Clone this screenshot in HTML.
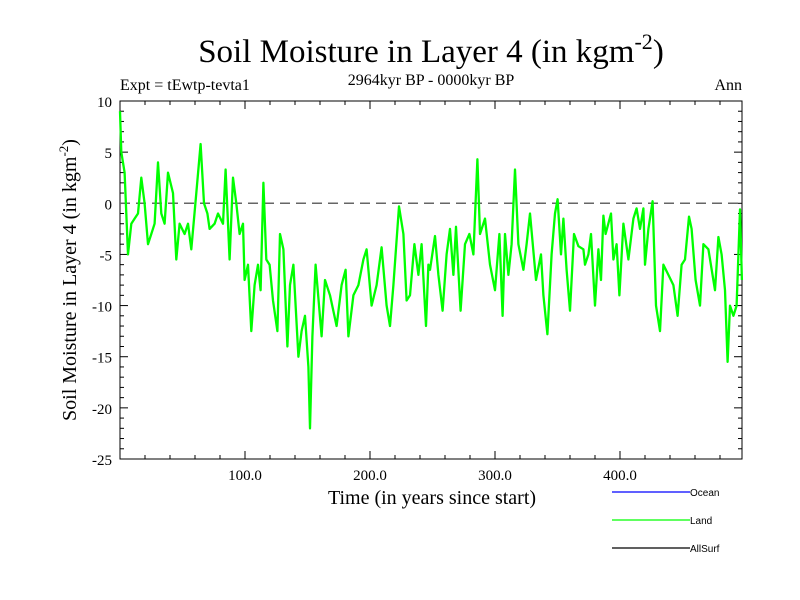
<!DOCTYPE html>
<html><head><meta charset="utf-8"><style>
body{margin:0;background:#fff;}
svg{display:block;}
</style></head><body>
<svg id="chart" width="800" height="600" xmlns="http://www.w3.org/2000/svg">
<text x="431" y="62" text-anchor="middle" font-family="Liberation Serif, serif" font-size="33">Soil Moisture in Layer 4 (in kgm<tspan dy="-13" font-size="22">-2</tspan><tspan dy="13">)</tspan></text>
<text x="120" y="90" font-family="Liberation Serif, serif" font-size="16">Expt = tEwtp-tevta1</text>
<text x="431" y="85" text-anchor="middle" font-family="Liberation Serif, serif" font-size="16">2964kyr BP - 0000kyr BP</text>
<text x="742" y="90" text-anchor="end" font-family="Liberation Serif, serif" font-size="16">Ann</text>
<text x="432" y="504" text-anchor="middle" font-family="Liberation Serif, serif" font-size="20">Time (in years since start)</text>
<text transform="translate(76,280) rotate(-90)" text-anchor="middle" font-family="Liberation Serif, serif" font-size="20">Soil Moisture in Layer 4 (in kgm<tspan dy="-8" font-size="13">-2</tspan><tspan dy="8">)</tspan></text>
<g id="axes"></g>
<g id="series"></g>
<g id="legend"></g>
</svg>
<script>
const years=[0,1,3.7,6.4,9,11.7,14.4,17,19.7,22.4,25,27.7,30.4,33,35.7,38.4,42.4,45,47.7,51.7,54.4,57,61,64.5,67.2,69.9,71.7,75.7,78.4,82.4,84.5,87.7,90.4,93,95.7,98.4,99.7,102.4,105,107.7,110.4,112.5,114.7,117,119.7,122.4,125.9,
128,130.7,133.9,136,138.7,142.7,145.3,148,150.7,152,153.9,156.5,161.3,164,168,173.3,177.3,180.5,182.7,186.7,190.7,194.7,197.3,201.3,205.3,209.3,213.3,216,218.7,223.2,226.7,229.3,232,235.5,238.7,241.3,244.8,246.7,
248,252,254.7,258.1,261.3,264,266.7,268.8,272.5,276,279.5,282.7,285.9,288,292,296,300,303.5,306.1,308,310.7,313.3,316,318.7,322.7,325.3,328,332.8,336.8,338.7,341.9,345.3,348,350.1,352.8,354.7,357.3,360,363.2,366.7,370.7,
372,374.7,376.8,380,382.7,384.8,386.7,388.5,392.8,394.7,397.3,399.5,402.7,406.7,410.7,413.3,416,418.7,420,422.7,426.1,428.8,432,434.7,438.7,442.7,446.1,449.3,452,455.2,457.3,460.5,464,466.7,470.7,476,478.7,481.3,484,486.1,488,490.7,493.3,496,497.5];
const landValues=[9,5,3,-5,-2,-1.5,-1,2.5,0,-4,-3,-2,4,-1,-2,3,1,-5.5,-2,-3,-2,-4.5,1,5.8,0,-1,-2.5,-2,-1,-2,3.3,-5.5,2.5,0,-3,-2,-7.5,-6,-12.5,-8,-6,-8.5,2,-5.5,-6,-9.5,-12.5,
-3,-4.5,-14,-8,-6,-15,-12.5,-11,-16,-22,-13,-6,-13,-7.5,-9,-12,-8,-6.5,-13,-9,-8,-5.5,-4.5,-10,-8,-4.3,-10,-12,-8,-0.3,-3,-9.5,-9,-4,-7,-4,-12,-6,
-6.5,-3.2,-7,-10.5,-5,-2.5,-7,-2.3,-10.5,-4,-3,-5,4.3,-3,-1.5,-6,-8.5,-3,-11,-3,-7,-4,3.3,-4,-6.5,-4,-1,-7.5,-5,-9,-12.8,-5,-1,0.4,-5,-1.5,-6.5,-10.5,-3,-4.2,-4.5,
-6,-5,-3,-10,-4.5,-7.5,-1.2,-3,-1,-5.5,-4,-9,-2,-5.5,-1.5,-0.5,-2.5,-0.5,-6,-2.5,0.2,-10,-12.5,-6,-7,-8,-11,-6,-5.5,-1.3,-2.5,-7.5,-10,-4,-4.5,-8.5,-3.3,-5,-8.5,-15.5,-10,-11,-10,-0.6,-7.5];
const yTickLabels=["10","5","0","-5","-10","-15","-20","-25"];
const yTickValues=[10,5,0,-5,-10,-15,-20,-25];
const xTickLabels=["100.0","200.0","300.0","400.0"];
const xTickValues=[100,200,300,400];
const legendNames=["Ocean","Land","AllSurf"];
const legendColors=["#0000ff","#00ff00","#000000"];

const NS="http://www.w3.org/2000/svg";
const X0=120,X1=742,Y0=101,Y1=459;
const xMin=0,xMax=497.6,yMin=-25,yMax=10;
function xs(v){return X0+(v-xMin)/(xMax-xMin)*(X1-X0);}
function ys(v){return Y1-(v-yMin)/(yMax-yMin)*(Y1-Y0);}
function mk(tag,attrs,parent){const e=document.createElementNS(NS,tag);for(const k in attrs)e.setAttribute(k,attrs[k]);parent.appendChild(e);return e;}
const axes=document.getElementById('axes');
const frame=mk('rect',{x:X0,y:Y0,width:X1-X0,height:Y1-Y0,fill:'none',stroke:'#000','stroke-width':1},axes);


for(let v=yMin;v<=yMax;v++){
  const len=(v%5===0)?8:4;const y=ys(v);
  const t1=mk('line',{x1:X0,x2:X0+len,y1:y,y2:y,stroke:'#000'},axes);
  
  
  const t2=mk('line',{x1:X1,x2:X1-len,y1:y,y2:y,stroke:'#000'},axes);
  
  
}
yTickValues.forEach((v,i)=>{
  const t=mk('text',{x:112,y:ys(v)+6,'text-anchor':'end','font-family':'Liberation Serif, serif','font-size':15},axes);
  t.textContent=yTickLabels[i];
  
  
});
for(let v=20;v<xMax;v+=20){
  const len=(v%100===0)?8:4;const x=xs(v);
  const t1=mk('line',{x1:x,x2:x,y1:Y1,y2:Y1-len,stroke:'#000'},axes);
  
  
  const t2=mk('line',{x1:x,x2:x,y1:Y0,y2:Y0+len,stroke:'#000'},axes);
  
  
}
xTickValues.forEach((v,i)=>{
  const t=mk('text',{x:xs(v),y:480,'text-anchor':'middle','font-family':'Liberation Serif, serif','font-size':15},axes);
  t.textContent=xTickLabels[i];
  
  
});
const zl=mk('line',{x1:X0,x2:X1,y1:ys(0),y2:ys(0),stroke:'#666','stroke-width':1.5,'stroke-dasharray':'10,6'},axes);


const series=document.getElementById('series');
const pts=years.map((t,i)=>xs(t).toFixed(1)+','+ys(landValues[i]).toFixed(1)).join(' ');
const pl=mk('polyline',{points:pts,fill:'none',stroke:'#00ff00','stroke-width':2.3,'stroke-linejoin':'round'},series);


const lg=document.getElementById('legend');
legendNames.forEach((n,i)=>{
  const y=492+i*28;
  const l=mk('line',{x1:612,x2:690,y1:y,y2:y,stroke:legendColors[i],'stroke-width':1.2},lg);
  
  
  const t=mk('text',{x:690,y:y+4,'font-family':'Liberation Sans, sans-serif','font-size':10},lg);
  t.textContent=n;
  
  
});
</script>
</body></html>
